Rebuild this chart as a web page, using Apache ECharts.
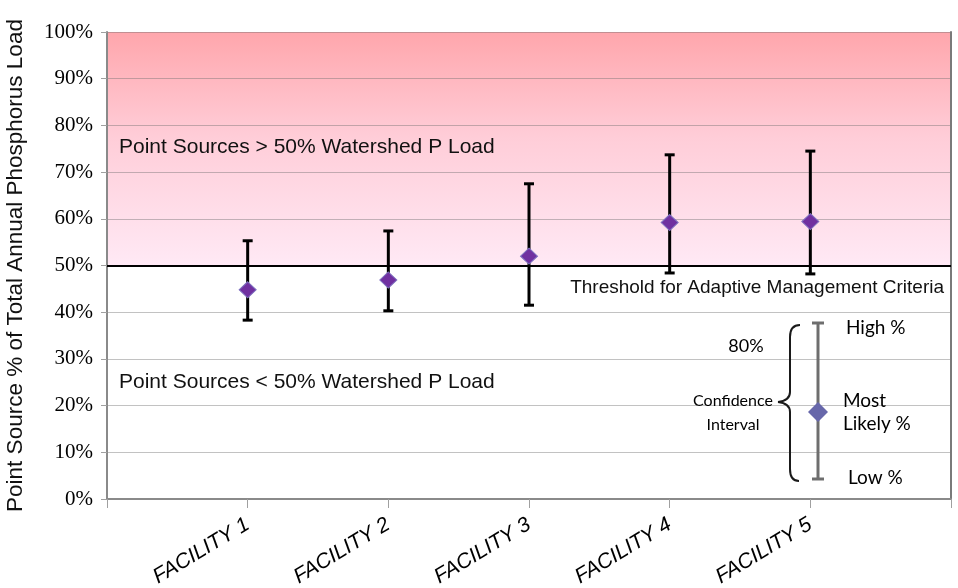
<!DOCTYPE html>
<html>
<head>
<meta charset="utf-8">
<script src="https://cdn.jsdelivr.net/npm/echarts@6/dist/echarts.min.js"></script>
<style>
  html, body { margin: 0; padding: 0; background: #fff; }
  #chart { width: 958px; height: 588px; }
</style>
</head>
<body>
<div id="chart"></div>
<script>
// ---- data ----
const categories = ['FACILITY 1', 'FACILITY 2', 'FACILITY 3', 'FACILITY 4', 'FACILITY 5'];
const mostLikely = [44.8, 46.9, 52.0, 59.2, 59.4];
const lowPct = [38.3, 40.3, 41.5, 48.4, 48.2];
const highPct = [55.3, 57.4, 67.5, 73.7, 74.5];
const threshold = 50;
const yMin = 0, yMax = 100, yStep = 10;
const yAxisTitle = 'Point Source % of Total Annual Phosphorus Load';
const upperNote = 'Point Sources > 50% Watershed P Load';
const lowerNote = 'Point Sources < 50% Watershed P Load';
const thresholdNote = 'Threshold for Adaptive Management Criteria';

// axis has an empty slot at each end (points sit on tick marks)
const axisCategories = [''].concat(categories, ['']);

const chart = echarts.init(document.getElementById('chart'), null, { renderer: 'canvas' });

const SANS = 'Liberation Sans, Arial, sans-serif';
const LEG = 'Lato, sans-serif';

const legendText = (txt, x, y, align, size) => ({
  type: 'text', x: x, y: y, silent: true, z: 10,
  style: { text: txt, font: (size || 17) + 'px ' + LEG, fill: '#000', align: align || 'left', verticalAlign: 'middle' }
});
const braceStyle = { stroke: '#1a1a1a', lineWidth: 2, fill: null };
const bz = (x1, y1, cx1, cy1, cx2, cy2, x2, y2) => ({
  type: 'bezierCurve', silent: true, z: 10,
  shape: { x1: x1, y1: y1, cpx1: cx1, cpy1: cy1, cpx2: cx2, cpy2: cy2, x2: x2, y2: y2 },
  style: braceStyle
});
const ln = (x1, y1, x2, y2, st) => ({ type: 'line', silent: true, z: 10, shape: { x1: x1, y1: y1, x2: x2, y2: y2 }, style: st });

const option = {
  animation: false,
  backgroundColor: '#ffffff',
  grid: { left: 107, right: 7, top: 32, bottom: 89, containLabel: false, outerBoundsMode: 'none' },
  xAxis: {
    type: 'category',
    data: axisCategories,
    boundaryGap: false,
    axisLine: { show: true, lineStyle: { color: '#8a8a8a', width: 2 } },
    axisTick: { show: true, length: 9, interval: 0, lineStyle: { color: '#a0a0a0', width: 1 } },
    axisLabel: {
      interval: 0, rotate: 31, margin: 24,
      fontFamily: SANS, fontStyle: 'italic', fontSize: 21, color: '#000'
    },
    splitLine: { show: false }
  },
  yAxis: [{
    type: 'value',
    min: yMin, max: yMax, interval: yStep,
    name: yAxisTitle,
    nameLocation: 'middle',
    nameGap: 80,
    nameRotate: 90,
    nameTextStyle: { fontFamily: SANS, fontSize: 22.5, color: '#111' },
    axisLine: { show: true, lineStyle: { color: '#8a8a8a', width: 2 } },
    axisTick: { show: true, length: 6, lineStyle: { color: '#a0a0a0' } },
    axisLabel: {
      formatter: '{value}%', margin: 14,
      fontFamily: 'Liberation Serif, Times New Roman, serif', fontSize: 21, color: '#000'
    },
    splitLine: { show: true, lineStyle: { color: 'rgba(110,110,110,0.42)', width: 1 } }
  }, {
    type: 'value', position: 'right',
    min: yMin, max: yMax, interval: yStep,
    axisLine: { show: true, lineStyle: { color: '#7a7a7a', width: 2 } },
    axisTick: { show: false }, axisLabel: { show: false }, splitLine: { show: false }
  }],
  series: [
    {
      // background band above threshold
      type: 'line', data: [], z: -1, silent: true,
      markArea: {
        silent: true, z: -1,
        itemStyle: {
          color: new echarts.graphic.LinearGradient(0, 0, 0, 1, [
            { offset: 0, color: '#FFA6AC' },
            { offset: 0.45, color: '#FFCDD8' },
            { offset: 1, color: '#FFE9F5' }
          ])
        },
        data: [[{ yAxis: yMax }, { yAxis: threshold }]]
      }
    },
    {
      type: 'custom',
      name: 'range',
      z: 3,
      renderItem: function (params, api) {
        const x = api.value(0);
        const top = api.coord([x, api.value(2)]);
        const bot = api.coord([x, api.value(1)]);
        const hw = 5;
        const st = { stroke: '#000', lineWidth: 3 };
        return {
          type: 'group',
          children: [
            { type: 'line', shape: { x1: top[0], y1: top[1], x2: bot[0], y2: bot[1] }, style: st },
            { type: 'line', shape: { x1: top[0] - hw, y1: top[1], x2: top[0] + hw, y2: top[1] }, style: st },
            { type: 'line', shape: { x1: bot[0] - hw, y1: bot[1], x2: bot[0] + hw, y2: bot[1] }, style: st }
          ]
        };
      },
      encode: { x: 0, y: [1, 2] },
      data: categories.map((c, i) => [i + 1, lowPct[i], highPct[i]]),
      markLine: {
        silent: true, symbol: 'none',
        label: { show: false },
        lineStyle: { color: '#000', width: 2, type: 'solid' },
        data: [{ yAxis: threshold }]
      }
    },
    {
      type: 'scatter',
      name: 'Most likely',
      z: 4,
      symbol: 'diamond',
      symbolSize: [17, 16],
      itemStyle: { color: '#7030A0', borderColor: '#7C6FBF', borderWidth: 1, opacity: 1 },
      data: categories.map((c, i) => [i + 1, mostLikely[i]])
    }
  ],
  graphic: [
    { type: 'text', x: 119, y: 147, silent: true, z: 10,
      style: { text: upperNote, font: '21px ' + SANS, fill: '#111', verticalAlign: 'middle' } },
    { type: 'text', x: 119, y: 382, silent: true, z: 10,
      style: { text: lowerNote, font: '21px ' + SANS, fill: '#111', verticalAlign: 'middle' } },
    { type: 'text', x: 944, y: 288, silent: true, z: 10,
      style: { text: thresholdNote, font: '19px ' + SANS, fill: '#111', align: 'right', verticalAlign: 'middle' } },
    // legend sample
    ln(818, 323, 818, 479, { stroke: '#6e6e6e', lineWidth: 3 }),
    ln(812, 323, 824, 323, { stroke: '#6e6e6e', lineWidth: 3 }),
    ln(812, 479, 824, 479, { stroke: '#6e6e6e', lineWidth: 3 }),
    { type: 'polygon', silent: true, z: 11, shape: { points: [[818, 402], [828, 412], [818, 422], [808, 412]] }, style: { fill: '#6767AA' } },
    bz(800, 325, 793, 325, 790, 329, 790, 337),
    ln(790, 337, 790, 392, braceStyle),
    bz(790, 392, 790, 398, 786, 401, 778, 402),
    bz(778, 402, 786, 403, 790, 406, 790, 412),
    ln(790, 412, 790, 469, braceStyle),
    bz(790, 469, 790, 477, 793, 481, 799, 481),
    legendText('80%', 746, 346, 'center', 18),
    legendText('Confidence', 733, 401, 'center', 16),
    legendText('Interval', 733, 425, 'center', 16),
    legendText('High %', 846, 328, 'left', 19),
    legendText('Most', 843, 401, 'left', 19),
    legendText('Likely %', 843, 424, 'left', 19),
    legendText('Low %', 848, 478, 'left', 19)
  ]
};

chart.setOption(option);
</script>
</body>
</html>
